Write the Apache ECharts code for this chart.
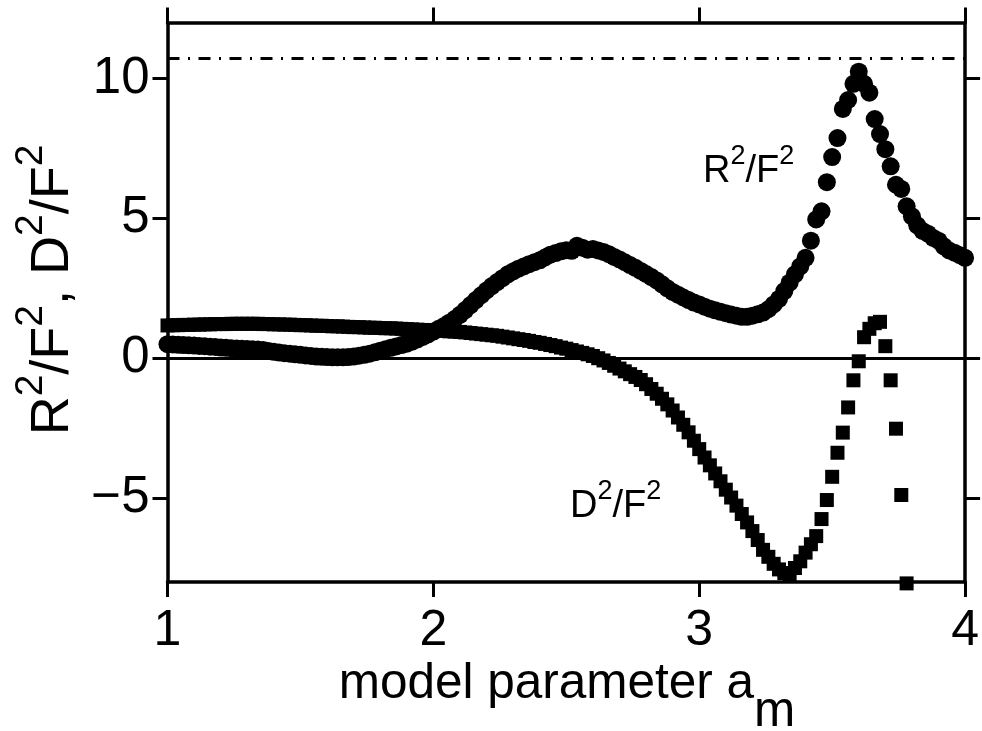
<!DOCTYPE html>
<html>
<head>
<meta charset="utf-8">
<script src="https://cdn.jsdelivr.net/npm/echarts@6/dist/echarts.min.js"></script>
<style>
html,body{margin:0;padding:0;background:#fff;}
#chart{width:982px;height:731px;}
</style>
</head>
<body>
<div id="chart"></div>
<script>
// model parameter a_m (x values)
const amValues = [
1.00,1.02,1.04,1.06,1.08,1.10,1.12,1.14,1.16,1.18,
1.20,1.22,1.24,1.26,1.28,1.30,1.32,1.34,1.36,1.38,
1.40,1.42,1.44,1.46,1.48,1.50,1.52,1.54,1.56,1.58,
1.60,1.62,1.64,1.66,1.68,1.70,1.72,1.74,1.76,1.78,
1.80,1.82,1.84,1.86,1.88,1.90,1.92,1.94,1.96,1.98,
2.00,2.02,2.04,2.06,2.08,2.10,2.12,2.14,2.16,2.18,
2.20,2.22,2.24,2.26,2.28,2.30,2.32,2.34,2.36,2.38,
2.40,2.42,2.44,2.46,2.48,2.50,2.52,2.54,2.56,2.58,
2.60,2.62,2.64,2.66,2.68,2.70,2.72,2.74,2.76,2.78,
2.80,2.82,2.84,2.86,2.88,2.90,2.92,2.94,2.96,2.98,
3.00,3.02,3.04,3.06,3.08,3.10,3.12,3.14,3.16,3.18,
3.20,3.22,3.24,3.26,3.28,3.30,3.32,3.34,3.36,3.38,
3.40,3.42,3.44,3.46,3.48,3.50,3.52,3.54,3.56,3.58,
3.60,3.62,3.64,3.66,3.68,3.70,3.72,3.74,3.76,3.78,
3.80,3.82,3.84,3.86,3.88,3.90,3.92,3.94,3.96,3.98,
4.00
];
// R^2/F^2 (circles)
const r2f2 = [
0.50,0.49,0.48,0.47,0.46,0.45,0.44,0.43,0.41,0.40,
0.38,0.37,0.36,0.35,0.34,0.33,0.32,0.31,0.29,0.26,
0.23,0.20,0.18,0.16,0.14,0.12,0.10,0.08,0.06,0.05,
0.04,0.03,0.03,0.03,0.04,0.06,0.09,0.12,0.16,0.21,
0.27,0.32,0.37,0.42,0.47,0.52,0.59,0.67,0.76,0.85,
0.95,1.05,1.15,1.27,1.40,1.55,1.72,1.90,2.08,2.25,
2.42,2.58,2.72,2.86,3.00,3.10,3.20,3.28,3.36,3.43,
3.50,3.60,3.70,3.76,3.82,3.86,3.84,4.02,3.95,3.88,
3.90,3.85,3.80,3.72,3.62,3.53,3.43,3.33,3.23,3.12,
3.01,2.90,2.78,2.64,2.50,2.37,2.27,2.17,2.08,1.99,
1.92,1.84,1.77,1.71,1.66,1.61,1.56,1.52,1.48,1.48,
1.52,1.57,1.63,1.75,1.92,2.12,2.40,2.70,3.00,3.28,
3.59,4.20,4.96,5.25,6.29,7.19,7.87,8.91,9.23,9.81,
10.24,9.81,9.49,8.55,8.01,7.47,6.86,6.20,6.05,5.43,
5.07,4.75,4.55,4.45,4.30,4.20,4.00,3.85,3.77,3.68,
3.59
];
// D^2/F^2 (squares), a_m = 1.00 ... 3.78
const d2f2 = [
1.17,1.18,1.18,1.19,1.19,1.20,1.20,1.21,1.21,1.22,
1.22,1.22,1.23,1.23,1.23,1.23,1.23,1.23,1.22,1.22,
1.21,1.21,1.20,1.20,1.19,1.18,1.18,1.17,1.16,1.16,
1.15,1.14,1.14,1.13,1.12,1.11,1.11,1.10,1.09,1.09,
1.08,1.07,1.07,1.06,1.05,1.04,1.03,1.02,1.01,1.00,
1.00,0.99,0.98,0.96,0.95,0.94,0.92,0.90,0.88,0.86,
0.84,0.82,0.80,0.77,0.74,0.71,0.68,0.65,0.62,0.58,
0.55,0.51,0.47,0.43,0.38,0.34,0.29,0.24,0.19,0.14,
0.08,0.00,-0.08,-0.17,-0.27,-0.37,-0.47,-0.57,-0.67,-0.78,
-0.93,-1.10,-1.27,-1.45,-1.65,-1.87,-2.12,-2.38,-2.65,-2.95,
-3.25,-3.55,-3.83,-4.12,-4.40,-4.70,-4.98,-5.27,-5.57,-5.87,
-6.18,-6.50,-6.85,-7.10,-7.35,-7.55,-7.68,-7.72,-7.50,-7.26,
-6.95,-6.65,-6.36,-5.75,-5.07,-4.24,-3.38,-2.66,-1.76,-0.79,
-0.11,0.75,1.05,1.25,1.30,0.43,-0.79,-2.52,-4.89,-8.05
];
const xTicks = [1, 2, 3, 4];
const yTicks = [-5, 0, 5, 10];
const zeroLevel = 0;
const limitLevel = 10.71;

const rData = r2f2.map((v, i) => [amValues[i], v]);
const dData = d2f2.map((v, i) => [amValues[i], v]);

const FONT = '"Liberation Sans", Arial, Helvetica, sans-serif';
const axisCommon = {
  type: 'value',
  axisLine: { show: true, onZero: false, lineStyle: { color: '#000', width: 3.5 } },
  axisTick: { show: true, inside: false, length: 15, lineStyle: { color: '#000', width: 3 } },
  splitLine: { show: false }
};

const chart = echarts.init(document.getElementById('chart'), null, { renderer: 'canvas' });
chart.setOption({
  animation: false,
  backgroundColor: '#fff',
  grid: { left: 167.5, right: 15.3, top: 22.5, bottom: 149, containLabel: false },
  xAxis: [
    Object.assign({}, axisCommon, {
      position: 'bottom', min: 1, max: 4,
      axisTick: Object.assign({}, axisCommon.axisTick, { customValues: xTicks }),
      axisLabel: { customValues: xTicks, color: '#000', fontSize: 50, fontFamily: FONT, margin: 24 }
    }),
    Object.assign({}, axisCommon, {
      position: 'top', min: 1, max: 4,
      axisTick: Object.assign({}, axisCommon.axisTick, { customValues: xTicks }),
      axisLabel: { show: false }
    })
  ],
  yAxis: [
    Object.assign({}, axisCommon, {
      position: 'left', min: -8, max: 12,
      axisTick: Object.assign({}, axisCommon.axisTick, { customValues: yTicks }),
      axisLabel: { customValues: yTicks, color: '#000', fontSize: 51, fontFamily: FONT, margin: 18,
        formatter: v => String(v).replace('-', '\u2212') }
    }),
    Object.assign({}, axisCommon, {
      position: 'right', min: -8, max: 12,
      axisTick: Object.assign({}, axisCommon.axisTick, { customValues: yTicks }),
      axisLabel: { show: false }
    })
  ],
  series: [
    {
      type: 'scatter', name: 'D2/F2', data: dData, symbol: 'rect', symbolSize: 14,
      itemStyle: { color: '#000', opacity: 1 }, clip: false, silent: true,
      markLine: {
        silent: true, symbol: ['none', 'none'], label: { show: false },
        data: [
          { yAxis: zeroLevel, lineStyle: { color: '#000', width: 3, type: 'solid', opacity: 1 } },
          { yAxis: limitLevel, lineStyle: { color: '#000', width: 3, type: [12, 8.5, 2, 8.5], opacity: 1 } }
        ]
      }
    },
    {
      type: 'scatter', name: 'R2/F2', data: rData, symbol: 'circle', symbolSize: 18,
      itemStyle: { color: '#000', opacity: 1 }, clip: false, silent: true
    }
  ],
  graphic: [
    {
      type: 'text', x: 567, y: 659,
      style: {
        text: '{m|model parameter a}{s|m}', textAlign: 'center', textVerticalAlign: 'top',
        rich: {
          m: { fontSize: 49.5, fontFamily: FONT, color: '#000', lineHeight: 56, verticalAlign: 'top' },
          s: { fontSize: 49.5, fontFamily: FONT, color: '#000', lineHeight: 106, verticalAlign: 'middle' }
        }
      }
    },
    {
      type: 'text', x: 46, y: 290, rotation: Math.PI / 2,
      style: {
        text: '{m|R}{p|2}{m|/F}{p|2}{m|, D}{p|2}{m|/F}{p|2}', textAlign: 'center', textVerticalAlign: 'middle',
        rich: {
          m: { fontSize: 54, fontFamily: FONT, color: '#000', lineHeight: 68, verticalAlign: 'bottom' },
          p: { fontSize: 39, fontFamily: FONT, color: '#000', lineHeight: 42, verticalAlign: 'top' }
        }
      }
    },
    {
      type: 'text', x: 703, y: 167,
      style: {
        text: '{m|R}{p|2}{m|/F}{p|2}', textAlign: 'left', textVerticalAlign: 'middle',
        rich: {
          m: { fontSize: 38, fontFamily: FONT, color: '#000', lineHeight: 48, verticalAlign: 'bottom' },
          p: { fontSize: 27, fontFamily: FONT, color: '#000', lineHeight: 30, verticalAlign: 'top' }
        }
      }
    },
    {
      type: 'text', x: 570, y: 502,
      style: {
        text: '{m|D}{p|2}{m|/F}{p|2}', textAlign: 'left', textVerticalAlign: 'middle',
        rich: {
          m: { fontSize: 38, fontFamily: FONT, color: '#000', lineHeight: 48, verticalAlign: 'bottom' },
          p: { fontSize: 27, fontFamily: FONT, color: '#000', lineHeight: 30, verticalAlign: 'top' }
        }
      }
    }
  ]
});
</script>
</body>
</html>
